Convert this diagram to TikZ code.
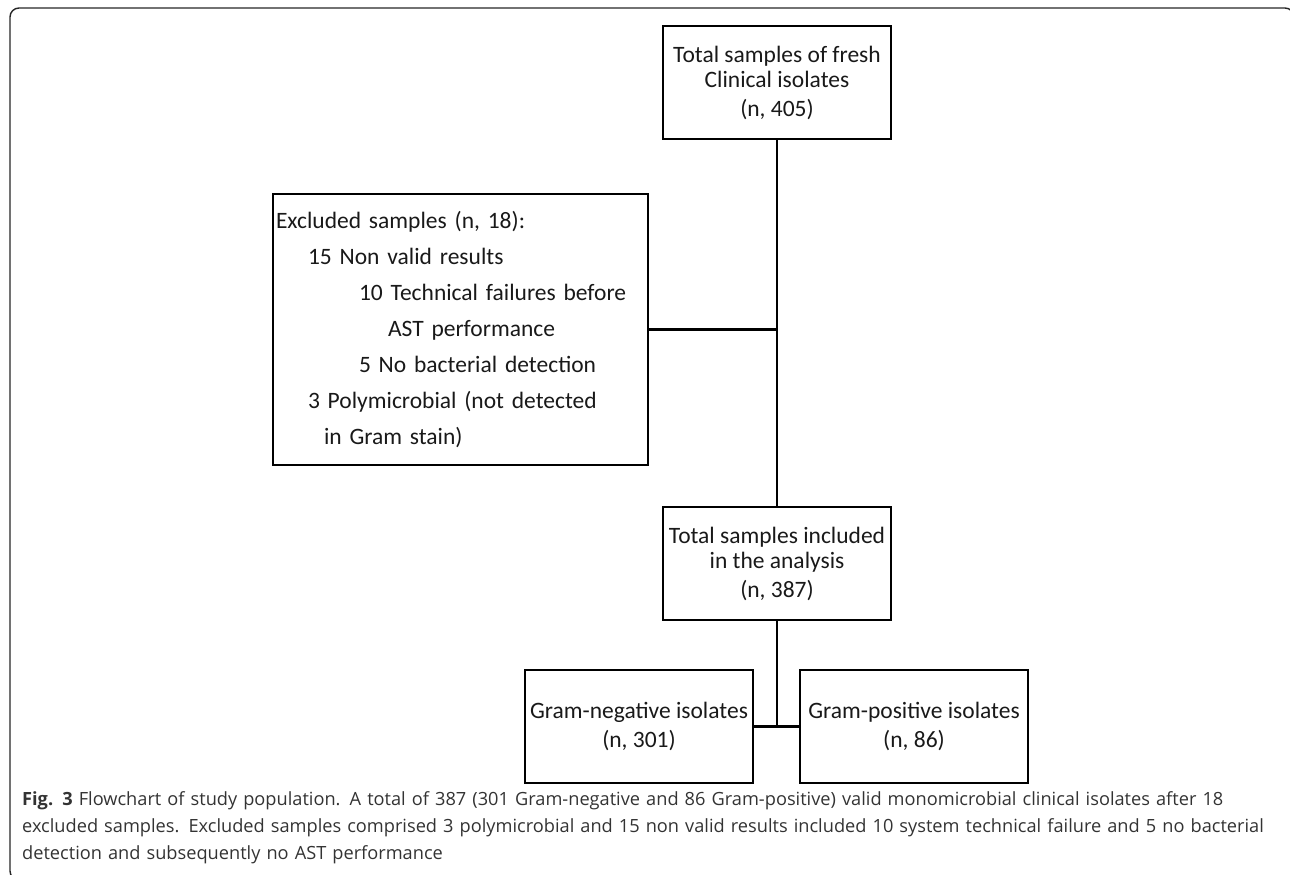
\documentclass[tikz,border=0pt]{standalone}
\usepackage{fontspec}
\setmainfont{Carlito}
\newfontfamily\capfont{Open Sans}
\begin{document}
\begin{tikzpicture}[x=1pt,y=-1pt,
    box/.style={draw,line width=2.6pt,minimum width=228pt,minimum height=113pt,inner sep=0pt,
        align=center,text=black!90,font=\fontsize{23.5}{25}\selectfont},
    ln/.style={line width=2.6pt}]
    \useasboundingbox (0,0) rectangle (1290,875);
    \draw[rounded corners=9pt,line width=1.4pt,black!85] (1294,40) -- (1294,8) -- (10,8) -- (10,880) -- (40,880);
    \node[box] (total) at (777,82.5) {Total samples of fresh\\Clinical isolates\\[4pt](n, 405)};
    \node[box,minimum width=375pt,minimum height=271pt,text width=369pt,inner xsep=3pt,align=left,
        font=\fontsize{23.5}{36}\selectfont] (excl) at (460.5,329.5) {Excluded samples (n, 18):\\
        \hspace*{32pt}15 Non valid results\\
        \hspace*{83pt}10 Technical failures before\\
        \hspace*{112pt}AST performance\\
        \hspace*{83pt}5 No bacterial detection\\
        \hspace*{32pt}3 Polymicrobial (not detected\\
        \hspace*{48pt}in Gram stain)};
    \node[box] (incl) at (777,563.5) {Total samples included\\in the analysis\\[4pt](n, 387)};
    \foreach \n/\kind/\v/\x in {neg/negative/301/639,pos/positive/86/914}
        \node[box] (\n) at (\x,726.5) {Gram-\kind{} isolates\\[4pt](n, \v)};
    \draw[ln] (total) -- (incl);
    \draw[ln] (excl) -- (excl -| total);
    \draw[ln] (incl) -- (incl |- neg);
    \draw[ln] (neg) -- (pos);
    \node[anchor=north west,text width=1265pt,align=left,inner sep=0pt,text=black!80,
        font=\capfont\fontsize{18.2}{27}\selectfont] (cap) at (22,791)
        {\textbf{Fig. 3} Flowchart of study population. A total of 387 (301 Gram-negative and 86 Gram-positive) valid monomicrobial clinical isolates after 18\\
        excluded samples. Excluded samples comprised 3 polymicrobial and 15 non valid results included 10 system technical failure and 5 no bacterial\\
        detection and subsequently no AST performance};
\end{tikzpicture}
\end{document}
